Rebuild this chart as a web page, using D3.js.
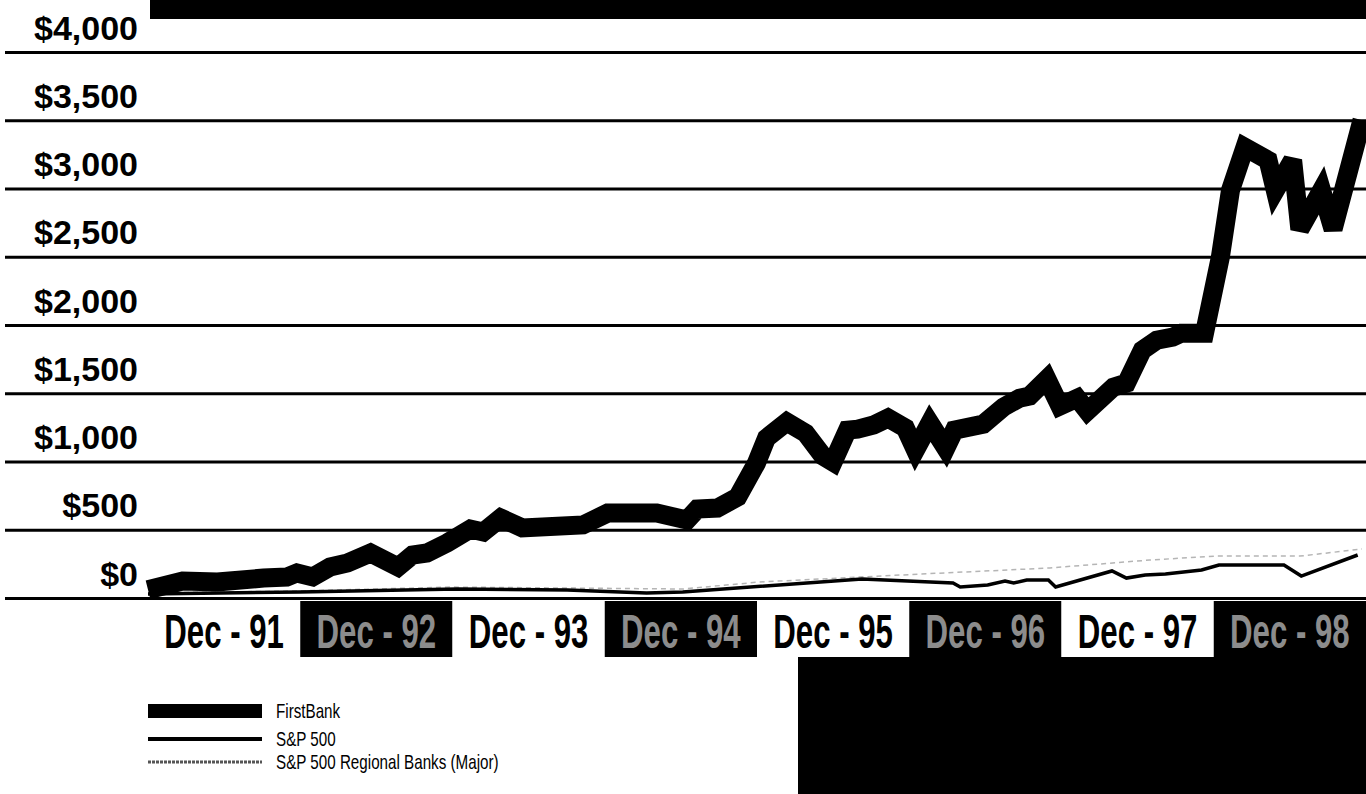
<!DOCTYPE html>
<html>
<head>
<meta charset="utf-8">
<script src="https://cdn.jsdelivr.net/npm/d3@7"></script>
<style>
	body { margin: 0; background: #fff; overflow: hidden; }
	svg { display: block; }
</style>
</head>
<body>
<svg id="chart"></svg>
<script>
	// Canvas size
	var WIDTH = 1366;
	var HEIGHT = 794;

	// Value axis ticks and their labels
	var TICKS = [0, 500, 1000, 1500, 2000, 2500, 3000, 3500, 4000];
	var TICK_LABELS = ['$0', '$500', '$1,000', '$1,500', '$2,000', '$2,500', '$3,000', '$3,500', '$4,000'];

	// Year boxes under the chart
	var YEAR_LABELS = ['Dec - 91', 'Dec - 92', 'Dec - 93', 'Dec - 94', 'Dec - 95', 'Dec - 96', 'Dec - 97', 'Dec - 98'];

	// FirstBank: months after Dec-91 and value of the investment
	var FB_MONTHS = [0, 2.4, 4.8, 8, 9.6, 10.3, 11.4, 12.6, 13.8, 15.4, 17.3, 18.3, 19.3, 20.7, 22.3, 23.2, 24.4, 25.9, 30.1, 31.8,
		35.2, 37.3, 38, 39.4, 40.8, 42.1, 42.8, 44.2, 45.5, 46.7, 47.4, 48.4, 49.1, 50.2, 51.2, 52.4, 53.1, 54.1, 55.2, 55.8,
		57.8, 59.2, 60.3, 61, 62.2, 63.1, 64.3, 65, 66.8, 67.7, 68.8, 69.8, 70.9, 71.5, 72.3, 73.1, 74.2, 74.9, 75.9, 77.5,
		78, 79.2, 79.7, 81.2, 82, 84];
	var FB_VALUES = [60, 124, 117, 146, 154, 183, 154, 227, 256, 330, 227, 315, 330, 403, 505, 483, 586, 513, 535, 622,
		622, 571, 652, 659, 740, 988, 1172, 1289, 1208, 1040, 996, 1230, 1237, 1267, 1318, 1245, 1084, 1281, 1098, 1230,
		1274, 1399, 1464, 1479, 1604, 1406, 1464, 1369, 1545, 1574, 1816, 1889, 1911, 1940, 1940, 1940, 2497, 2987, 3302, 3207,
		2987, 3207, 2702, 2987, 2702, 3500];

	// S&P 500
	var SP_MONTHS = [0, 10.5, 21.4, 29, 34.5, 37, 49.4, 55.7, 56.2, 58.1, 59.3, 59.9, 60.8, 62.3, 62.8, 66.7, 67.7, 69, 70.4, 72.9, 74.1, 78.6, 79.8, 83.7];
	var SP_VALUES = [29, 44, 66, 59, 37, 44, 139, 110, 81, 95, 124, 110, 132, 132, 81, 198, 146, 168, 176, 205, 242, 242, 161, 315];

	// S&P 500 Regional Banks (Major)
	var RB_MONTHS = [0, 10, 21, 29, 37, 42.3, 52, 62.4, 69.3, 73.8, 79.7, 84];
	var RB_VALUES = [37, 51, 80, 73, 66, 117, 168, 220, 278, 307, 307, 359];

	var LEGEND_LABELS = ['FirstBank', 'S&P 500', 'S&P 500 Regional Banks (Major)'];

	var FONT = '"Liberation Sans", Arial, sans-serif';

	var svg = d3.select('#chart').attr('width', WIDTH).attr('height', HEIGHT);

	var x = d3.scaleLinear().domain([0, 84]).range([148, 1362]);
	var y = d3.scaleLinear().domain([0, 4000]).range([598, 52]);

	// Black band along the top edge
	svg.append('rect').attr('x', 150).attr('y', 0).attr('width', WIDTH - 150).attr('height', 19).attr('fill', '#000');

	// Gridlines, with the dollar labels sitting above each line
	var yAxis = d3.axisRight(y).tickValues(TICKS).tickSize(WIDTH - 5)
		.tickFormat(function (d, i) { return TICK_LABELS[i]; });
	var gy = svg.append('g').attr('transform', 'translate(5,0)').call(yAxis);
	gy.select('.domain').remove();
	gy.selectAll('.tick line').attr('stroke', '#000').attr('stroke-width', 3);
	gy.selectAll('.tick text')
		.attr('x', 133).attr('dy', -13).attr('text-anchor', 'end')
		.attr('fill', '#000')
		.style('font-family', FONT)
		.style('font-weight', 'bold').style('font-size', '34px');

	// Year boxes, alternating white and black
	var band = d3.scaleBand().domain(YEAR_LABELS).range([148, WIDTH]);
	var boxes = svg.append('g').selectAll('g').data(YEAR_LABELS).enter().append('g')
		.attr('transform', function (d) { return 'translate(' + band(d) + ',601)'; });
	boxes.append('rect').attr('width', band.bandwidth()).attr('height', 56)
		.attr('fill', function (d, i) { return i % 2 ? '#000' : '#fff'; });
	// condensed, tall lettering: squeeze the font sideways and stretch it up
	boxes.append('text').text(function (d) { return d; })
		.attr('transform', 'translate(' + (band.bandwidth() / 2) + ',47) scale(0.78,1.22)')
		.attr('text-anchor', 'middle')
		.attr('fill', function (d, i) { return i % 2 ? '#8c8c8c' : '#000'; })
		.style('font-family', FONT)
		.style('font-weight', 'bold').style('font-size', '40px');

	// Black block in the lower right
	svg.append('rect').attr('x', 798).attr('y', 657).attr('width', WIDTH - 798).attr('height', HEIGHT - 657).attr('fill', '#000');

	var line = d3.line().x(function (d) { return x(d[0]); }).y(function (d) { return y(d[1]); });

	svg.append('path').datum(d3.zip(RB_MONTHS, RB_VALUES)).attr('d', line)
		.attr('fill', 'none').attr('stroke', '#b5b5b5').attr('stroke-width', 1.5).attr('stroke-dasharray', '5,4');

	svg.append('path').datum(d3.zip(SP_MONTHS, SP_VALUES)).attr('d', line)
		.attr('fill', 'none').attr('stroke', '#000').attr('stroke-width', 3.5).attr('stroke-linejoin', 'miter');

	svg.append('path').datum(d3.zip(FB_MONTHS, FB_VALUES)).attr('d', line)
		.attr('fill', 'none').attr('stroke', '#000').attr('stroke-width', 19)
		.attr('stroke-linejoin', 'miter').attr('stroke-miterlimit', 3);

	// Legend
	var legend = svg.append('g').attr('transform', 'translate(148,711)');
	var rows = legend.selectAll('g').data(LEGEND_LABELS).enter().append('g')
		.attr('transform', function (d, i) { return 'translate(0,' + [0, 28, 51][i] + ')'; });
	rows.append('line').attr('x1', 0).attr('x2', 114).attr('y1', 0).attr('y2', 0)
		.attr('stroke', function (d, i) { return i === 2 ? '#555' : '#000'; })
		.attr('stroke-width', function (d, i) { return [14, 4, 3][i]; })
		.attr('stroke-dasharray', function (d, i) { return i === 2 ? '3,1' : null; });
	rows.append('text').text(function (d) { return d; })
		.attr('transform', 'translate(128,7) scale(0.76,1)')
		.attr('fill', '#000')
		.style('font-family', FONT)
		.style('font-size', '20px');
</script>
</body>
</html>
